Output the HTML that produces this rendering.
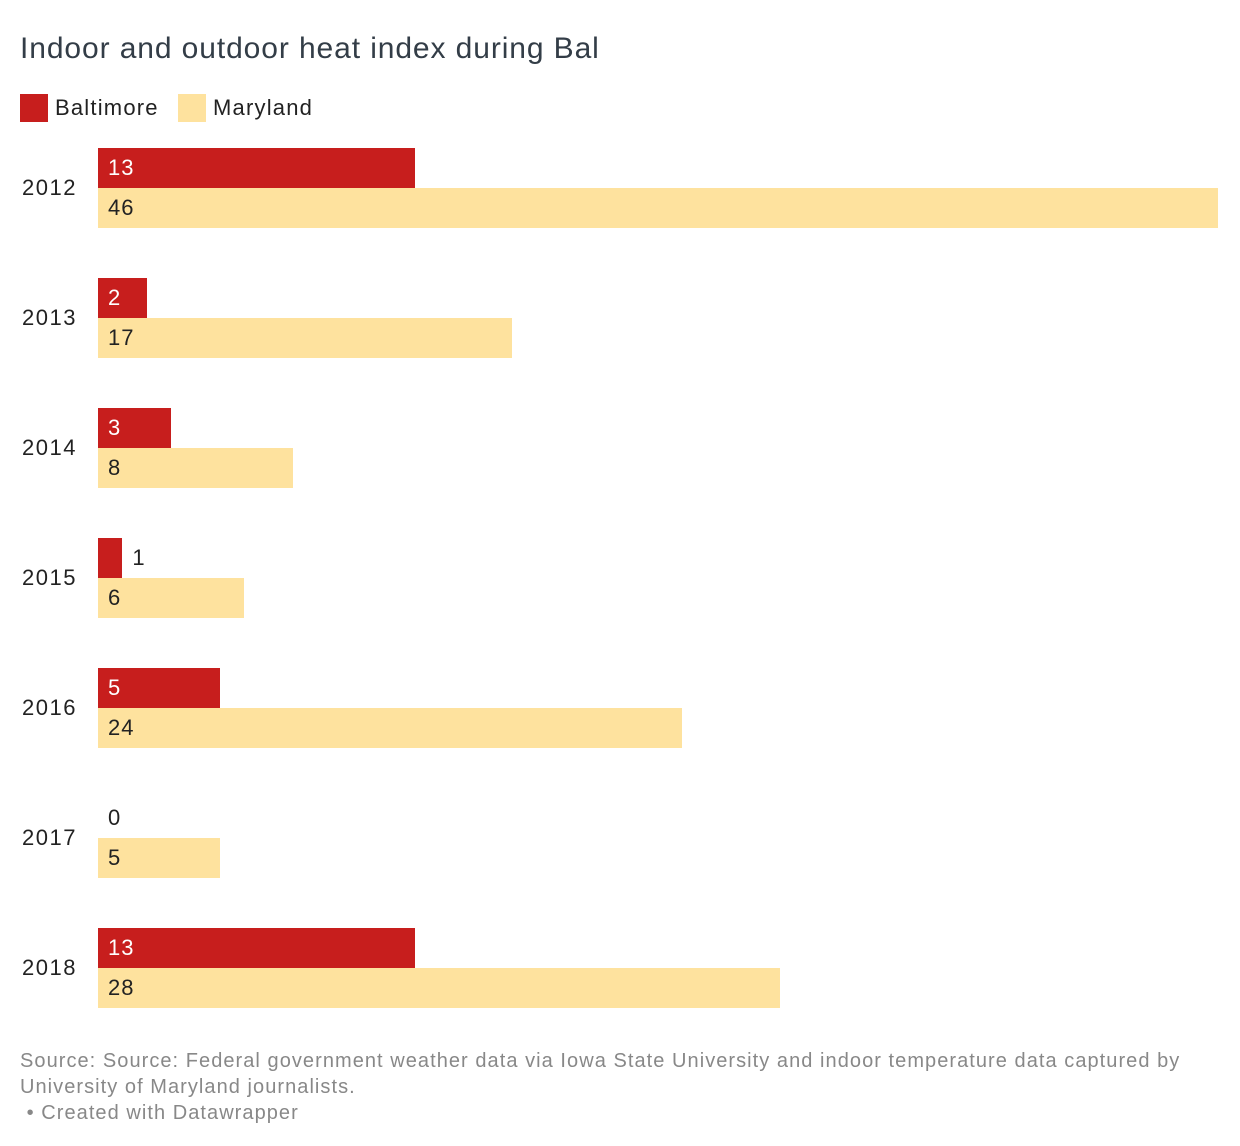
<!DOCTYPE html>
<html><head><meta charset="utf-8"><style>
body{margin:0;width:1240px;height:1146px;background:#fff;font-family:"Liberation Sans",sans-serif;position:relative;overflow:hidden}
.t{position:absolute;white-space:nowrap}
</style></head><body>
<div class="t" style="left:20px;top:32px;font-size:30px;color:#333d47;letter-spacing:0.9px">Indoor and outdoor heat index during Bal</div>
<div>
<div style="position:absolute;left:20px;top:94px;width:28px;height:28px;background:#c71e1d"></div>
<div class="t" style="left:55px;top:95px;font-size:22px;color:#222;letter-spacing:1.2px">Baltimore</div>
<div style="position:absolute;left:178px;top:94px;width:28px;height:28px;background:#fee29e"></div>
<div class="t" style="left:213px;top:95px;font-size:22px;color:#222;letter-spacing:1.2px">Maryland</div>
</div>
<div id="chart"></div>
<div class="t" style="left:20px;top:1048px;font-size:20px;color:#888;line-height:26px;letter-spacing:1.05px">Source: Source: Federal government weather data via Iowa State University and indoor temperature data captured by<br>University of Maryland journalists.<br>&nbsp;• Created with Datawrapper</div>
<script>
const years=["2012","2013","2014","2015","2016","2017","2018"];
const baltimore=[13,2,3,1,5,0,13];
const maryland=[46,17,8,6,24,5,28];
const maxVal=46;
const x0=98,plotW=1120,top0=148,pitch=130,bh=40;
function xs(v){return v/maxVal*plotW;}
const c=document.getElementById('chart');
function add(tag,name,style,text){const e=document.createElement(tag);


e.style.cssText=style;if(text!==undefined)e.textContent=text;c.appendChild(e);return e;}
years.forEach((y,i)=>{
 const t=top0+i*pitch;
 add('div','year-label-'+y,`position:absolute;left:22px;top:${t+27}px;font-size:22px;color:#222;white-space:nowrap;letter-spacing:1.5px`,y);
 const wb=xs(baltimore[i]);
 if(wb>0)add('div','bar-baltimore-'+y,`position:absolute;left:${x0}px;top:${t}px;width:${wb}px;height:${bh}px;background:#c71e1d`);
 const inside=wb>30;
 add('div','value-baltimore-'+y,`position:absolute;left:${inside?x0+10:x0+wb+10}px;top:${t+7}px;font-size:22px;color:${inside?'#fff':'#222'};white-space:nowrap;letter-spacing:1px`,baltimore[i]);
 const wm=xs(maryland[i]);
 add('div','bar-maryland-'+y,`position:absolute;left:${x0}px;top:${t+bh}px;width:${wm}px;height:${bh}px;background:#fee29e`);
 add('div','value-maryland-'+y,`position:absolute;left:${x0+10}px;top:${t+bh+7}px;font-size:22px;color:#222;white-space:nowrap;letter-spacing:1px`,maryland[i]);
});
</script>
</body></html>
